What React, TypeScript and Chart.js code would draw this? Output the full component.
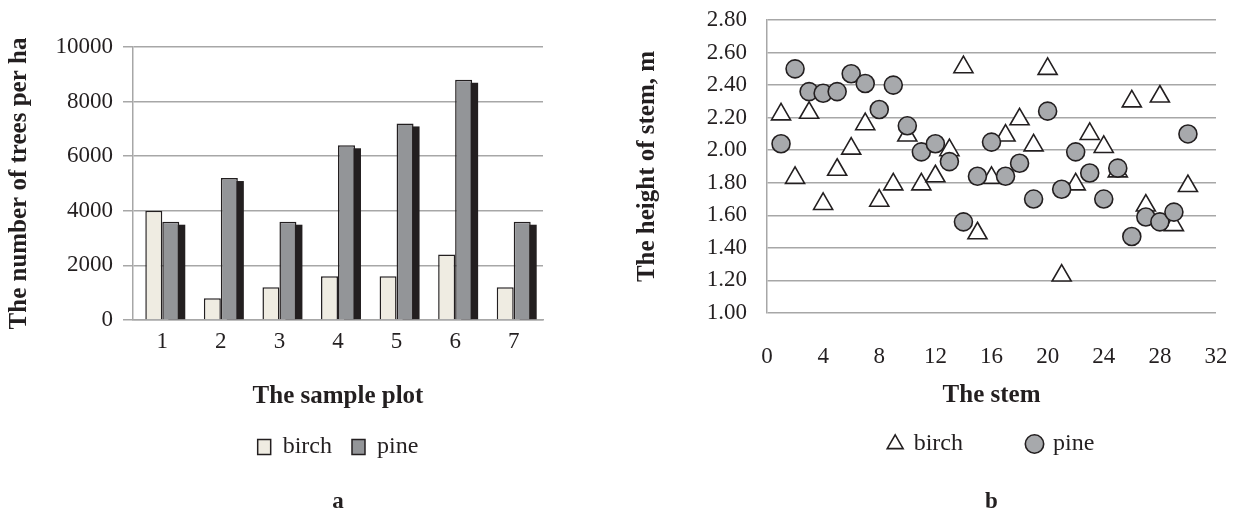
import React, { useEffect, useRef } from 'react';
import { Chart, registerables } from 'chart.js';

Chart.register(...registerables);

// ---- data: chart a (bars) ----
const plots = ['1', '2', '3', '4', '5', '6', '7'];
const birchTrees = [4000, 800, 1200, 1600, 1600, 2400, 1200];
const pineTrees = [3600, 5200, 3600, 6400, 7200, 8800, 3600];
const treeTicks = [0, 2000, 4000, 6000, 8000, 10000];

// ---- data: chart b (scatter) ----
const stems = [1, 2, 3, 4, 5, 6, 7, 8, 9, 10, 11, 12, 13, 14, 15, 16, 17, 18, 19, 20, 21, 22, 23, 24, 25, 26, 27, 28, 29, 30];
const birchHeight = [2.22, 1.83, 2.23, 1.67, 1.88, 2.01, 2.16, 1.69, 1.79, 2.09, 1.79, 1.84, 2.0, 2.51, 1.49, 1.83, 2.09, 2.19, 2.03, 2.5, 1.23, 1.79, 2.1, 2.02, 1.87, 2.3, 1.66, 2.33, 1.54, 1.78];
const pineHeight = [2.04, 2.5, 2.36, 2.35, 2.36, 2.47, 2.41, 2.25, 2.4, 2.15, 1.99, 2.04, 1.93, 1.56, 1.84, 2.05, 1.84, 1.92, 1.7, 2.24, 1.76, 1.99, 1.86, 1.7, 1.89, 1.47, 1.59, 1.56, 1.62, 2.1];
const stemTicks = [0, 4, 8, 12, 16, 20, 24, 28, 32];
const heightTicks = [1.0, 1.2, 1.4, 1.6, 1.8, 2.0, 2.2, 2.4, 2.6, 2.8];

const FONT = "'Liberation Serif', 'Times New Roman', serif";
const INK = '#231f20';
const GRID = '#a7a7a7';

const tickFont = { family: FONT, size: 23 };
const titleFont = { family: FONT, size: 25, weight: 'bold' as const };
const legendFont = { family: FONT, size: 24 };
const letterFont = { family: FONT, size: 23, weight: 'bold' as const };

const pineShadow = {
  id: 'pineShadow',
  beforeDatasetsDraw(chart: any) {
    const meta = chart.getDatasetMeta(1);
    const ctx = chart.ctx;
    ctx.save();
    ctx.fillStyle = INK;
    meta.data.forEach((el: any) => {
      const { x, y, base, width } = el.getProps(['x', 'y', 'base', 'width'], true);
      ctx.fillRect(x - width / 2 + 6, y + 3, width, base - y - 3);
    });
    ctx.restore();
  },
};

export default function App() {
  const leftRef = useRef<HTMLCanvasElement>(null);
  const rightRef = useRef<HTMLCanvasElement>(null);

  useEffect(() => {
    const left = new Chart(leftRef.current as HTMLCanvasElement, {
      type: 'bar',
      data: {
        labels: plots,
        datasets: [
          {
            label: 'birch',
            data: birchTrees,
            backgroundColor: '#efece2',
            borderColor: INK,
            borderWidth: 1.5,
            categoryPercentage: 0.58,
            barPercentage: 1,
          },
          {
            label: 'pine',
            data: pineTrees,
            backgroundColor: '#939598',
            borderColor: INK,
            borderWidth: 1.5,
            categoryPercentage: 0.58,
            barPercentage: 1,
          },
        ],
      },
      options: {
        animation: false,
        responsive: false,
        events: [],
        layout: { padding: { left: 0, right: 77, top: 47, bottom: 24.2 } },
        scales: {
          x: {
            grid: { display: false, drawTicks: false },
            border: { display: true, color: GRID, width: 1.5 },
            ticks: { font: tickFont, color: INK, padding: 8 },
            title: { display: true, text: 'The sample plot', font: titleFont, color: INK, padding: { top: 0, bottom: 3 } },
            afterFit: (s: any) => { s.height = 95; },
          },
          y: {
            min: 0,
            max: 10000,
            afterBuildTicks: (s: any) => { s.ticks = treeTicks.map((v) => ({ value: v })); },
            grid: { color: GRID, lineWidth: 1.5, drawTicks: true, tickLength: 10 },
            border: { color: GRID, width: 1.5 },
            ticks: { font: tickFont, color: INK, padding: 10, callback: (v: any) => String(v) },
            title: { display: true, text: 'The number of trees per ha', font: titleFont, color: INK, padding: { top: 5, bottom: 0 } },
            afterFit: (s: any) => { s.width = 133; },
          },
        },
        plugins: {
          legend: {
            position: 'bottom',
            fullSize: false,
            labels: { font: legendFont, color: INK, boxWidth: 13, boxHeight: 15, padding: 20 },
          },
          title: {
            display: true,
            position: 'bottom',
            fullSize: false,
            text: 'a',
            font: letterFont,
            color: INK,
            padding: { top: 19.2, bottom: 0 },
          },
          tooltip: { enabled: false },
        },
      },
      plugins: [pineShadow],
    } as any);

    const right = new Chart(rightRef.current as HTMLCanvasElement, {
      type: 'scatter',
      data: {
        datasets: [
          {
            label: 'birch',
            data: stems.map((x, i) => ({ x, y: birchHeight[i] })),
            pointStyle: 'triangle',
            radius: 11,
            backgroundColor: '#ffffff',
            borderColor: INK,
            borderWidth: 1.6,
            order: 1,
          },
          {
            label: 'pine',
            data: stems.map((x, i) => ({ x, y: pineHeight[i] })),
            pointStyle: 'circle',
            radius: 9,
            backgroundColor: '#a7a9ac',
            borderColor: INK,
            borderWidth: 1.6,
            order: 0,
          },
        ],
      },
      options: {
        animation: false,
        responsive: false,
        events: [],
        layout: { padding: { left: 0, right: 44, top: 20, bottom: 24.2 } },
        scales: {
          x: {
            type: 'linear',
            min: 0,
            max: 32,
            afterBuildTicks: (s: any) => { s.ticks = stemTicks.map((v) => ({ value: v })); },
            grid: { display: false, drawTicks: false },
            border: { display: false },
            ticks: { font: tickFont, color: INK, padding: 30 },
            title: { display: true, text: 'The stem', font: titleFont, color: INK, padding: { top: 0, bottom: -44 } },
            afterFit: (s: any) => { s.height = 54; },
          },
          y: {
            min: 1,
            max: 2.8,
            afterBuildTicks: (s: any) => { s.ticks = heightTicks.map((v) => ({ value: v })); },
            grid: { color: GRID, lineWidth: 1.5, drawTicks: true, tickLength: 20, tickColor: 'rgba(0,0,0,0)' },
            border: { color: GRID, width: 1.5 },
            ticks: { font: tickFont, color: INK, padding: 0, callback: (v: any) => Number(v).toFixed(2) },
            title: { display: true, text: 'The height of stem, m', font: titleFont, color: INK, padding: { top: 13, bottom: 0 } },
            afterFit: (s: any) => { s.width = 147; },
          },
        },
        plugins: {
          legend: {
            position: 'bottom',
            fullSize: false,
            labels: {
              font: legendFont,
              color: INK,
              usePointStyle: true,
              boxWidth: 13,
              boxHeight: 13,
              padding: 65,
              sort: (a: any, b: any) => a.datasetIndex - b.datasetIndex,
            },
          },
          title: {
            display: true,
            position: 'bottom',
            fullSize: false,
            text: 'b',
            font: letterFont,
            color: INK,
            padding: { top: 22.2, bottom: 0 },
          },
          tooltip: { enabled: false },
        },
      },
    } as any);

    return () => {
      left.destroy();
      right.destroy();
    };
  }, []);

  return (
    <div style={{ position: 'fixed', left: 0, top: 0, width: 1234, height: 510, overflow: 'hidden', background: '#ffffff' }}>
      <div style={{ position: 'absolute', left: 0, top: 0, width: 620, height: 540 }}>
        <canvas ref={leftRef} width={620} height={540} style={{ display: 'block', width: 620, height: 540 }} />
      </div>
      <div style={{ position: 'absolute', left: 620, top: 0, width: 606, height: 540, overflow: 'hidden' }}>
        <canvas ref={rightRef} width={640} height={540} style={{ display: 'block', width: 640, height: 540 }} />
      </div>
    </div>
  );
}
